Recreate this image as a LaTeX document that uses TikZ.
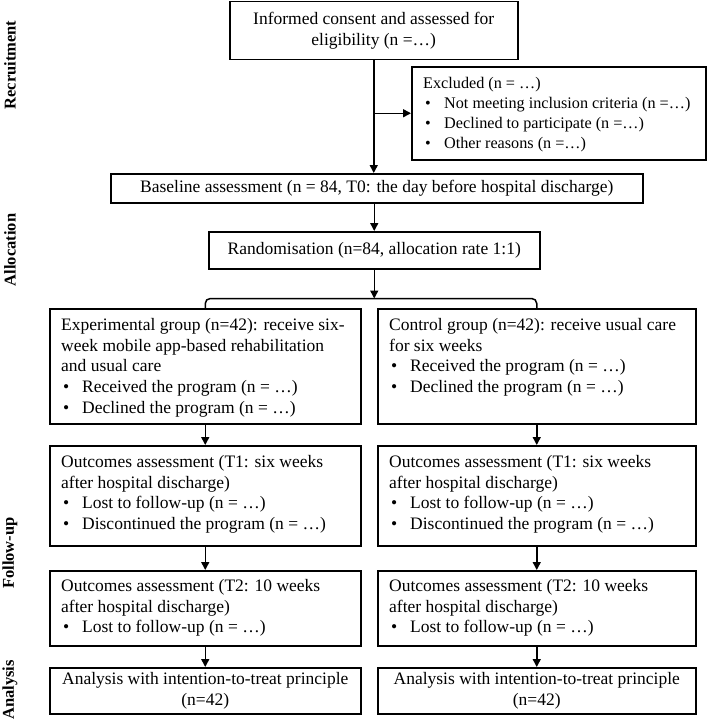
\documentclass[tikz,border=0pt]{standalone}
\usepackage{fontspec}
\setmainfont{Liberation Serif}
\usetikzlibrary{arrows.meta,calc}
\newcommand\bul{\makebox[21pt][l]{\hspace{2pt}\textbullet}}
\begin{document}
\begin{tikzpicture}[x=1pt,y=-1pt,
  box/.style={draw, line width=1.5pt, inner sep=0pt, anchor=north west},
  txt/.style={inner sep=0pt, anchor=north west, align=left, font=\fontsize{17.5}{20.7}\selectfont},
  ctxt/.style={align=center, font=\fontsize{17.5}{21.5}\selectfont},
  smalltxt/.style={inner sep=0pt, anchor=north west, align=left, font=\fontsize{16.2}{20}\selectfont},
  side/.style={rotate=90, font=\fontsize{16.5}{20}\selectfont\bfseries, inner sep=0pt},
  arr/.style={line width=1.5pt, -{Triangle[length=8pt,width=8pt]}},
  conn/.style={line width=1.5pt}]
\useasboundingbox (0,0) rectangle (709,725);

% side labels
\node[side] (lrec) at (10,65) {Recruitment};
\node[side] (lall) at (10,250) {Allocation};
\node[side] (lfol) at (10,553) {Follow-up};
\node[side] (lana) at (10,690) {Analysis};

% top part
\node[box, ctxt, minimum width=288pt, minimum height=58pt] (consent) at (229,1) {Informed consent and assessed for\\eligibility (n =…)};
\node[box, minimum width=294pt, minimum height=93pt] (excl) at (411,66) {};
\node[smalltxt] (excltxt) at ($(excl.north west)+(12,11)$) {Excluded (n = …)\\\bul Not meeting inclusion criteria (n =…)\\\bul Declined to participate (n =…)\\\bul Other reasons (n =…)};
\node[box, ctxt, minimum width=532pt, minimum height=29pt] (base) at (110,173) {Baseline assessment (n = 84, T0: the day before hospital discharge)};
\node[box, ctxt, minimum width=331pt, minimum height=37pt] (rand) at (208,231) {Randomisation (n=84, allocation rate 1:1)};

% group boxes
\node[box, minimum width=311pt, minimum height=115pt] (eg) at (49,308) {};
\node[txt] (egtxt) at ($(eg.north west)+(12,10)$) {Experimental group (n=42): receive six-\\week mobile app-based rehabilitation\\and usual care\\\bul Received the program (n = …)\\\bul Declined the program (n = …)};
\node[box, minimum width=318pt, minimum height=115pt] (cg) at (377,308) {};
\node[txt] (cgtxt) at ($(cg.north west)+(12,10)$) {Control group (n=42): receive usual care\\for six weeks\\\bul Received the program (n = …)\\\bul Declined the program (n = …)};

\node[box, minimum width=311pt, minimum height=100pt] (e1) at (49,445) {};
\node[txt] (e1txt) at ($(e1.north west)+(12,10)$) {Outcomes assessment (T1: six weeks\\after hospital discharge)\\\bul Lost to follow-up (n = …)\\\bul Discontinued the program (n = …)};
\node[box, minimum width=318pt, minimum height=100pt] (c1) at (377,445) {};
\node[txt] (c1txt) at ($(c1.north west)+(12,10)$) {Outcomes assessment (T1: six weeks\\after hospital discharge)\\\bul Lost to follow-up (n = …)\\\bul Discontinued the program (n = …)};

\node[box, minimum width=311pt, minimum height=75pt] (e2) at (49,570) {};
\node[txt] (e2txt) at ($(e2.north west)+(12,9)$) {Outcomes assessment (T2: 10 weeks\\after hospital discharge)\\\bul Lost to follow-up (n = …)};
\node[box, minimum width=318pt, minimum height=75pt] (c2) at (377,570) {};
\node[txt] (c2txt) at ($(c2.north west)+(12,9)$) {Outcomes assessment (T2: 10 weeks\\after hospital discharge)\\\bul Lost to follow-up (n = …)};

\node[box, ctxt, minimum width=311pt, minimum height=46pt] (e3) at (49,667) {Analysis with intention-to-treat principle\\(n=42)};
\node[box, ctxt, minimum width=318pt, minimum height=46pt] (c3) at (377,667) {Analysis with intention-to-treat principle\\(n=42)};

% connectors
\coordinate (br) at (consent.south |- excl.west);
\draw[arr] (consent.south) -- (consent.south |- base.north);
\draw[arr] (br) -- (excl.west);
\draw[arr] (base.south -| rand.north) -- (rand.north);
\coordinate (split) at ($(rand.south)+(0,29)$);
\draw[arr] (rand.south) -- (split);
\draw[conn, rounded corners=5pt] (eg.north) |- (split) -| (cg.north);
\draw[arr] (eg.south) -- (e1.north);
\draw[arr] (cg.south) -- (c1.north);
\draw[arr] (e1.south) -- (e2.north);
\draw[arr] (c1.south) -- (c2.north);
\draw[arr] (e2.south) -- (e3.north);
\draw[arr] (c2.south) -- (c3.north);
\end{tikzpicture}
\end{document}
